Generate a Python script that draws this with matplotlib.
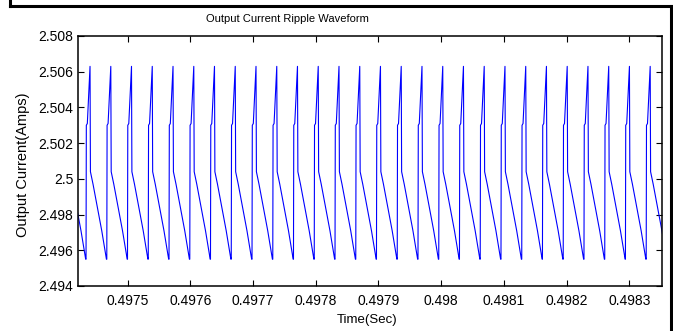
import matplotlib.pyplot as plt
from matplotlib.lines import Line2D
from matplotlib.ticker import FixedLocator

plt.rcParams['font.family'] = ['Liberation Sans', 'DejaVu Sans']

# start time (s) of each ripple cycle (bottom of each ramp)
cycle_starts = [0.4974007, 0.4974338, 0.4974669, 0.4974999, 0.4975330, 0.4975661,
                0.4975992, 0.4976322, 0.4976653, 0.4976984, 0.4977315, 0.4977645,
                0.4977976, 0.4978307, 0.4978638, 0.4978968, 0.4979299, 0.4979630,
                0.4979961, 0.4980291, 0.4980622, 0.4980953, 0.4981284, 0.4981614,
                0.4981945, 0.4982276, 0.4982607, 0.4982937, 0.4983268]

# one cycle of the ripple: offset (microseconds) and current (A)
shape_us = [0.0, 0.48, 2.07, 6.38, 7.02, 11.17, 18.02, 25.04, 32.54]
shape_amps = [2.4955, 2.5030, 2.5031, 2.5063, 2.5004, 2.4997, 2.4984, 2.4971, 2.4955]

xticks = [0.4975, 0.4976, 0.4977, 0.4978, 0.4979, 0.4980, 0.4981, 0.4982, 0.4983]
xtick_labels = ['0.4975', '0.4976', '0.4977', '0.4978', '0.4979', '0.498',
                '0.4981', '0.4982', '0.4983']
yticks = [2.494, 2.496, 2.498, 2.500, 2.502, 2.504, 2.506, 2.508]
ytick_labels = ['2.494', '2.496', '2.498', '2.5', '2.502', '2.504', '2.506', '2.508']

time = []
current = []
for t0 in cycle_starts:
    for dt, a in zip(shape_us, shape_amps):
        time.append(t0 + dt * 1e-6)
        current.append(a)

W, H = 673, 331
fig = plt.figure(figsize=(W / 100, H / 100), dpi=100)
ax = fig.add_axes([78 / W, 1 - 286 / H, 584 / W, 250 / H])

ax.plot(time, current, color='#0000ff', lw=0.8)
ax.set_xlim(0.497421, 0.498352)
ax.set_ylim(2.494, 2.508)

ax.xaxis.set_major_locator(FixedLocator(xticks))
ax.set_xticklabels(xtick_labels)
ax.yaxis.set_major_locator(FixedLocator(yticks))
ax.set_yticklabels(ytick_labels)
ax.tick_params(direction='in', length=4, width=0.8, top=True, right=True,
               labelsize=10)
ax.tick_params(axis='x', pad=6)
ax.tick_params(axis='y', pad=3.5)
for s in ax.spines.values():
    s.set_linewidth(1.1)

fig.text(287 / W, 1 - 19 / H, 'Output Current Ripple Waveform', ha='center',
         va='center', fontsize=8)
fig.text(367 / W, 1 - 320 / H, 'Time(Sec)', ha='center', va='center', fontsize=9.5)
fig.text(23 / W, 1 - 165 / H, 'Output Current(Amps)', ha='center', va='center',
         rotation=90, fontsize=10.5)

# frame around the figure
for xs, ys in [([9.5, 9.5], [0, 5.5]), ([9.5, 671], [5.5, 5.5]), ([671, 671], [5.5, 331])]:
    fig.add_artist(Line2D([x / W for x in xs], [1 - y / H for y in ys],
                          color='black', lw=2.2))

fig.savefig('out.png', dpi=100)
